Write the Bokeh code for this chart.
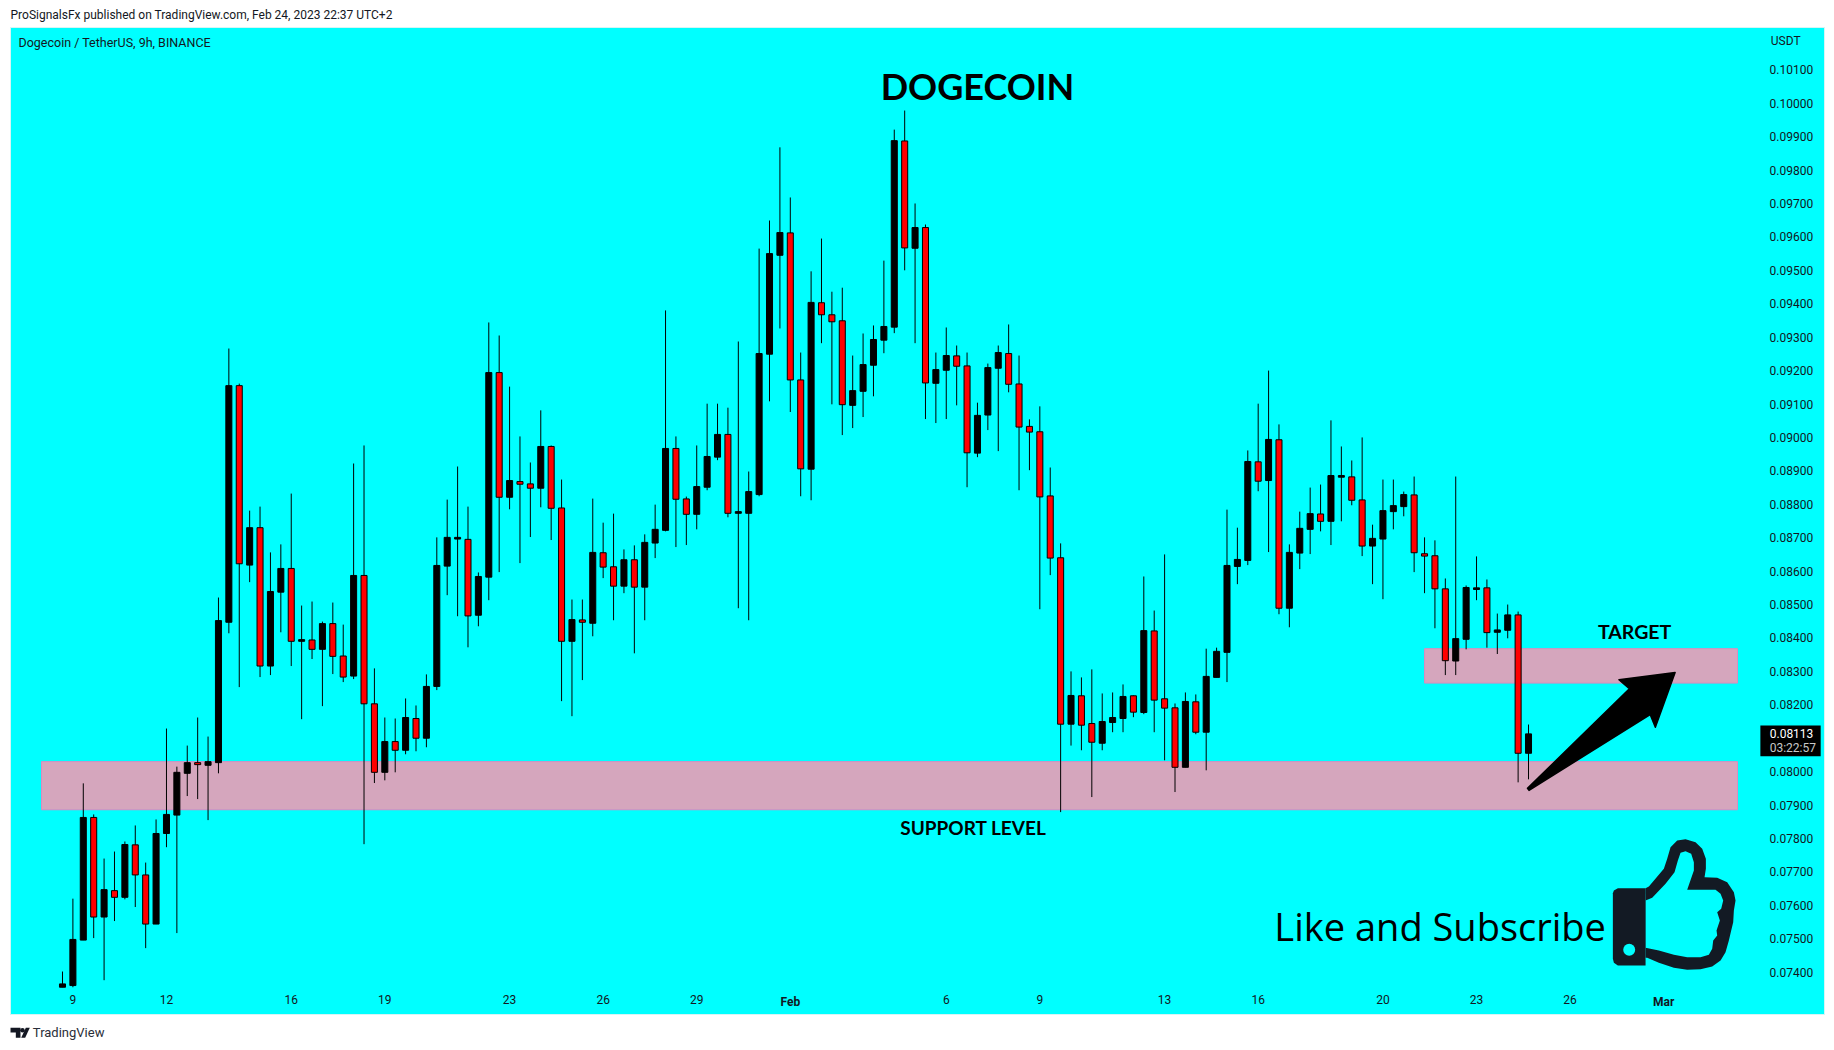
from bokeh.plotting import figure
from bokeh.models import Range1d, LinearAxis, FixedTicker, NumeralTickFormatter
from bokeh.core.properties import value
from bokeh.embed import file_html
from bokeh.resources import INLINE
import numpy as np

# Candles, in 1e-5 USDT
opens = [7355,7360,7496,7863,7565,7644,7624,7781,7691,7544,7815,7870,7995,8027,8019,8027,8447,9155,8618,8730,
 8316,8537,8608,8390,8394,8366,8443,8346,8286,8587,8203,7998,8090,8064,8159,8100,8255,8615,8696,8695,
 8468,8582,9194,8821,8868,8861,8848,8973,8789,8390,8454,8444,8655,8613,8555,8634,8552,8684,8722,8967,
 8816,8770,8851,8941,9009,8773,8773,8829,9249,9545,9612,9172,8905,9403,9367,9349,9096,9138,9216,9291,
 9330,9887,9566,9628,9162,9201,9244,9214,8953,9067,9207,9251,9160,9033,9017,8825,8640,8142,8227,8144,
 8085,8147,8159,8227,8177,8421,8218,8191,8013,8209,8118,8282,8357,8614,8632,8927,8871,8993,8489,8654,
 8725,8771,8749,8881,8882,8813,8675,8696,8778,8793,8828,8652,8646,8547,8331,8396,8545,8550,8417,8423,
 8469,8055]
closes = [7365,7498,7863,7565,7647,7624,7782,7691,7544,7815,7872,7998,8027,8021,8030,8452,9155,8622,8730,8316,
 8539,8608,8390,8395,8366,8443,8345,8283,8587,8203,7998,8090,8064,8162,8100,8255,8617,8701,8701,8466,
 8584,9194,8821,8871,8860,8848,8973,8788,8390,8455,8447,8656,8612,8555,8634,8552,8686,8725,8967,8815,
 8770,8853,8943,9009,8773,8778,8838,9251,9550,9613,9172,8906,9404,9367,9346,9098,9140,9218,9293,9332,
 9888,9567,9628,9163,9203,9245,9213,8954,9066,9209,9254,9159,9031,9016,8822,8639,8142,8228,8139,8088,
 8150,8162,8225,8178,8422,8214,8190,8013,8210,8118,8285,8360,8617,8635,8928,8869,8994,8489,8656,8728,
 8772,8749,8886,8886,8812,8675,8698,8781,8796,8829,8655,8645,8547,8332,8398,8551,8550,8416,8424,8469,
 8055,8113]
highs = [7402,7620,7965,7872,7740,7761,7791,7839,7728,7857,8129,8015,8078,8162,8105,8521,9266,9161,8781,8793,
 8656,8680,8832,8497,8509,8449,8506,8440,8922,8976,8309,8162,8159,8219,8198,8291,8701,8814,8913,8793,
 8596,9344,9305,9152,9003,8925,9081,8976,8874,8515,8515,8817,8745,8772,8665,8677,8710,8799,9380,9003,
 8823,8976,9101,9101,9089,9287,8898,9565,9649,9868,9718,9254,9497,9595,9436,9448,9245,9311,9335,9529,
 9921,9978,9700,9637,9254,9329,9275,9254,9104,9221,9275,9338,9245,9054,9093,8910,8683,8300,8282,8306,
 8234,8237,8261,8228,8584,8482,8650,8204,8237,8231,8368,8371,8784,8730,8961,9101,9200,9039,8680,8778,
 8850,8859,9051,8973,8931,9000,8739,8874,8874,8838,8883,8701,8692,8578,8883,8557,8644,8575,8473,8500,
 8479,8141]
lows = [7355,7355,7496,7502,7376,7553,7618,7595,7472,7544,7774,7517,7927,7918,7855,7995,8414,8253,8567,8283,
 8289,8417,8316,8157,8337,8196,8292,8268,8277,7783,7966,7974,7998,8052,8061,8073,8244,8528,8465,8372,
 8435,8513,8597,8785,8624,8702,8791,8693,8211,8166,8274,8405,8579,8453,8534,8354,8453,8639,8719,8672,
 8678,8725,8842,8932,8761,8489,8453,8824,9108,9326,9076,8824,8812,9282,9099,9007,9028,9061,9123,9252,
 9312,9500,9282,9055,9043,9055,9096,8851,8941,9022,8959,9135,8842,8902,8486,8588,7879,8078,8064,7924,
 8064,8118,8118,8163,8172,8118,8034,7939,8013,8112,8004,8282,8268,8561,8618,8839,8657,8471,8432,8606,
 8651,8719,8678,8749,8797,8645,8561,8516,8725,8764,8597,8534,8429,8289,8289,8366,8513,8371,8352,8399,
 7968,7977]

# Time axis: bar index and label
time_ticks = [1,10,22,31,43,52,61,85,94,106,115,127,136,145]
time_labels = ["9","12","16","19","23","26","29","6","9","13","16","20","23","26"]
month_ticks = [70,154]
month_labels = ["Feb","Mar"]

# Price axis
price_ticks = [0.074,0.075,0.076,0.077,0.078,0.079,0.080,0.082,0.083,0.084,0.085,0.086,0.087,0.088,0.089,
               0.090,0.091,0.092,0.093,0.094,0.095,0.096,0.097,0.098,0.099,0.100,0.101]

# Zones: (first bar, last bar, low, high)
support_zone = (-2.02, 161.1, 0.07886, 0.08030)
target_zone = (131.0, 161.1, 0.08265, 0.08368)
last_price = 0.08113

# Arrow (bar, price)
arrow_x = [140.9,150.7,149.7,155.1,153.2,152.7,141.05]
arrow_y = [0.0795,0.08248,0.08275,0.08297,0.08133,0.08171,0.07944]

FONT = "Roboto"
INK = "#131722"
CYAN = "#00ffff"

p = figure(width=1834, height=1050, output_backend="svg", toolbar_location=None,
           x_range=Range1d(-5.963, 170.43), y_range=Range1d(0.071657, 0.103073),
           x_axis_location=None, y_axis_location=None,
           min_border_left=0, min_border_right=0, min_border_top=0, min_border_bottom=0)
p.background_fill_color = "white"
p.border_fill_color = "white"
p.outline_line_color = None
p.grid.visible = False

# chart panel
p.quad(left=-5.0, right=169.47, bottom=0.072734, top=0.102265, fill_color=CYAN, line_color="#d6f5f5", line_width=1)

# axes inside the panel
xa = LinearAxis(ticker=FixedTicker(ticks=time_ticks),
                major_label_overrides={t: l for t, l in zip(time_ticks, time_labels)},
                fixed_location=0.07342)
xb = LinearAxis(ticker=FixedTicker(ticks=month_ticks),
                major_label_overrides={t: l for t, l in zip(month_ticks, month_labels)},
                fixed_location=0.07342, major_label_text_font_style="bold")
ya = LinearAxis(ticker=FixedTicker(ticks=price_ticks), formatter=NumeralTickFormatter(format="0.00000"),
                fixed_location=163.9)
for ax in (xa, xb, ya):
    ax.axis_line_color = None
    ax.major_tick_line_color = None
    ax.minor_tick_line_color = None
    ax.major_tick_in = 0
    ax.major_tick_out = 0
    ax.minor_tick_in = 0
    ax.minor_tick_out = 0
    ax.major_label_text_color = INK
    ax.major_label_text_font = FONT
    ax.major_label_text_font_size = "12px"
    ax.major_label_standoff = 3
p.add_layout(xa, "below")
p.add_layout(xb, "below")
p.add_layout(ya, "right")

# zones
for (x0, x1, lo, hi) in (support_zone, target_zone):
    p.quad(left=x0, right=x1, bottom=lo, top=hi, fill_color="#d5a6bd", line_color="#d98cc0", line_width=1)

# candles
idx = np.arange(len(opens))
o = np.array(opens) / 1e5
c = np.array(closes) / 1e5
h = np.array(highs) / 1e5
l = np.array(lows) / 1e5
colors = ["#000000" if cc >= oo else "#ff0000" for oo, cc in zip(o, c)]
p.segment(idx, h, idx, l, line_color="black", line_width=1)
p.vbar(x=idx, width=0.58, top=np.maximum(o, c), bottom=np.minimum(o, c),
       fill_color=colors, line_color="black", line_width=1)

# arrow
p.patch(arrow_x, arrow_y, fill_color="black", line_color="black", line_width=1.5, line_join="round")

# thumb icon, outlined in its own unit grid
def ix(u):
    return (1338 + np.array(u) / 3) / 10.397
def pv(w):
    return (10307.3 - 2.992 * (560 + np.array(w) / 3)) * 1e-5
outer_u = [735,745,790,800,810,830,855,885,905,916,916,912,950,980,1000,1005,1000,998,992,985,975,960,935,900,860,820,775,740,735]
outer_w = [983,978,925,895,860,840,836,845,865,895,925,950,952,965,995,1020,1050,1085,1110,1140,1175,1200,1218,1226,1228,1222,1207,1192,1192]
inner_u = [735,755,795,822,832,840,855,872,880,880,860,945,960,968,962,950,958,948,950,938,935,925,900,860,820,775,735]
inner_w = [1020,1012,970,935,900,877,872,880,905,930,988,988,1000,1020,1045,1055,1080,1110,1125,1140,1165,1183,1190,1190,1183,1170,1162]
cuff_u = [652,735,735,652,640,637,637,640]
cuff_w = [983,983,1215,1215,1207,1195,998,990]
p.patch(ix(outer_u), pv(outer_w), fill_color="#131a24", line_color=None)
p.patch(ix(inner_u), pv(inner_w), fill_color=CYAN, line_color=None)
p.patch(ix(cuff_u), pv(cuff_w), fill_color="#131a24", line_color=None)
p.ellipse(x=ix([686]), y=pv([1168]), width=1.15, height=0.00036, fill_color=CYAN, line_color=None)

# texts on chart
def txt(x, y, s, size, style="normal", font=FONT, color="black", align="center"):
    p.text(x=[x], y=[y], text=[s], text_font=value(font), text_font_size=size, text_font_style=style,
           text_color=color, text_align=align, text_baseline="middle")

txt(88.0, 0.10051, "DOGECOIN", "36px", "bold", "Lato")
txt(87.6, 0.07833, "SUPPORT LEVEL", "19px", "bold", "Lato")
txt(151.2, 0.08419, "TARGET", "19.5px", "bold", "Lato")
txt(132.5, 0.07537, "Like and Subscribe", "38px", "normal", "Open Sans")

# last price tag
p.quad(left=163.3, right=169.1, bottom=0.08046, top=0.08138, fill_color="#000000", line_color=None)
txt(164.2, last_price, "0.08113", "12px", color="white", align="left")
txt(164.2, 0.08071, "03:22:57", "12px", color="#c8c8c8", align="left")

txt(-4.23, 0.101825, "Dogecoin / TetherUS, 9h, BINANCE", "12.5px", color=INK, align="left")
txt(164.3, 0.101856, "USDT", "12px", color=INK, align="left")

# page furniture around the panel
txt(-5.0, 0.10265, "ProSignalsFx published on TradingView.com, Feb 24, 2023 22:37 UTC+2", "12px", color=INK, align="left")
txt(-2.85, 0.072196, "TradingView", "13px", color="#2a2e39", align="left")
p.patch([-5.0,-4.04,-4.04,-4.49,-4.49,-5.0], [0.072336,0.072336,0.072037,0.072037,0.072196,0.072196], fill_color=INK, line_color=None)
p.patch([-3.53,-3.145,-3.59,-3.97], [0.072336,0.072336,0.072037,0.072037], fill_color=INK, line_color=None)
p.ellipse(x=[-3.85], y=[0.072264], width=0.44, height=0.000138, fill_color=INK, line_color=None)

open("out.html", "w").write(file_html(p, INLINE))
